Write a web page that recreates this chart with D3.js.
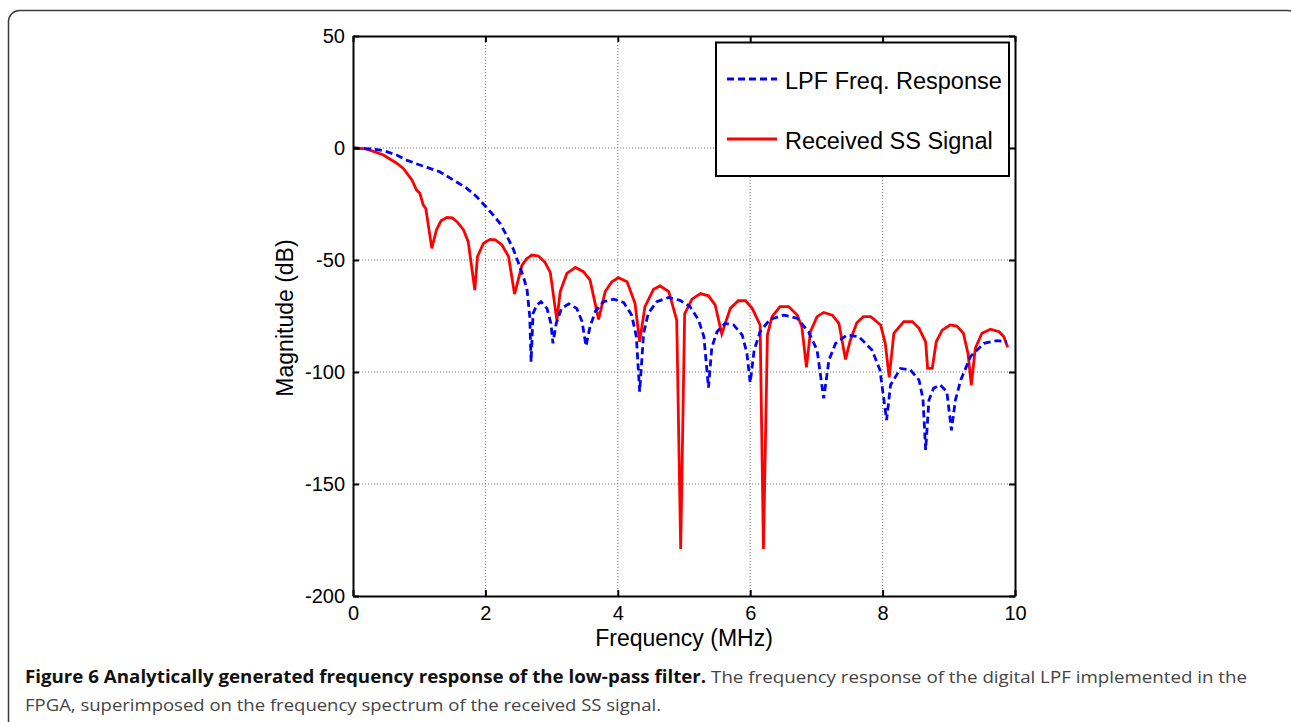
<!DOCTYPE html>
<html>
<head>
<meta charset="utf-8">
<script src="https://cdn.jsdelivr.net/npm/d3@7"></script>
<style>
  html, body { margin: 0; padding: 0; background: #fff; }
  svg { display: block; }
</style>
</head>
<body>
<svg id="chart" width="1291" height="722"></svg>
<script>
// Frequency axis values (MHz) and magnitudes (dB) for the digital LPF response
const lpfFreq = [0, 0.3, 0.46, 0.65, 0.81, 1.0, 1.15, 1.31, 1.5, 1.72, 1.86, 2.0, 2.12, 2.22, 2.32, 2.42, 2.52, 2.58, 2.63, 2.67, 2.69,
  2.72, 2.78, 2.84, 2.93, 2.99, 3.02, 3.07, 3.15, 3.26, 3.38, 3.46, 3.52, 3.58, 3.66, 3.78, 3.94, 4.09, 4.21, 4.28, 4.33,
  4.39, 4.46, 4.59, 4.77, 4.94, 5.09, 5.22, 5.30, 5.37, 5.42, 5.50, 5.62, 5.75, 5.88, 5.95, 6.0, 6.06, 6.15, 6.30, 6.51,
  6.71, 6.88, 7.01, 7.11, 7.19, 7.29, 7.46, 7.64, 7.84, 7.96, 8.06, 8.12, 8.27, 8.42, 8.55, 8.61, 8.65, 8.70, 8.77, 8.87,
  8.97, 9.04, 9.10, 9.18, 9.33, 9.53, 9.73, 9.88];
const lpfMag = [0, -0.5, -1.2, -3, -5.4, -7.5, -9, -10.6, -14, -18, -21.5, -26, -30, -33.6, -39, -45, -53, -58, -63.4, -75.3, -95.5,
  -73.8, -70, -68.6, -71.6, -78.3, -87.2, -78.3, -71.6, -69.6, -71.6, -77.5, -88.4, -79.8, -73, -68.6, -67.5, -69, -74.6, -84.2, -108.8,
  -82.7, -73.8, -68.6, -66.7, -68, -70.8, -76.8, -84.2, -107, -89, -82, -78.3, -79, -83.5, -91.7, -104.8, -90.2, -82, -76.5, -74.6,
  -76, -82, -90.2, -111.8, -94.6, -87.2, -83.5, -84.2, -90.2, -99.1, -121.5, -105.8, -98.4, -99.1, -103.6, -112, -134.8, -112.5, -107.3, -105.8,
  -108.8, -126, -112.5, -103.6, -93, -87.2, -86, -86.5];

// Spectrum of the received spread-spectrum signal
const ssFreq = [0, 0.2, 0.46, 0.66, 0.76, 0.89, 0.96, 1.01, 1.06, 1.10, 1.19, 1.26, 1.33, 1.42, 1.50, 1.57, 1.67, 1.74, 1.84,
  1.88, 1.97, 2.07, 2.15, 2.25, 2.35, 2.44, 2.47, 2.55, 2.62, 2.70, 2.80, 2.90, 2.98, 3.08, 3.13, 3.23, 3.36, 3.48, 3.58,
  3.71, 3.81, 3.91, 4.01, 4.14, 4.26, 4.33, 4.41, 4.54, 4.64, 4.77, 4.89, 4.95, 5.01, 5.12, 5.25, 5.37, 5.47, 5.57, 5.70,
  5.82, 5.93, 6.03, 6.15, 6.20, 6.26, 6.33, 6.45, 6.58, 6.71, 6.78, 6.85, 6.91, 7.01, 7.11, 7.24, 7.34, 7.44, 7.51, 7.61,
  7.71, 7.82, 7.97, 8.04, 8.10, 8.17, 8.32, 8.45, 8.55, 8.65, 8.68, 8.75, 8.81, 8.90, 9.02, 9.12, 9.22, 9.29, 9.34, 9.40,
  9.50, 9.63, 9.76, 9.83, 9.89];
const ssMag = [0, -0.4, -3.1, -6.8, -9.1, -14.3, -18.8, -20.2, -25.4, -27, -44.8, -36.6, -32.5, -31, -31.2, -32.9, -36.6, -41.8, -63.4,
  -48.5, -42.6, -40.8, -41, -43.3, -48.5, -65.2, -61.9, -52.5, -49.5, -47.8, -48.2, -51, -55.5, -77, -64.1, -56, -53.3, -55.2, -58.9,
  -76.5, -64.1, -59.7, -57.9, -59.7, -69.3, -86.5, -70.8, -63.1, -61.6, -64.1, -76.8, -179, -74, -67.5, -65, -66, -70, -83, -71.6,
  -68.2, -68.2, -71.6, -79, -179, -83.5, -75.3, -70.8, -70.8, -74.6, -79.8, -97.9, -82, -75.3, -73.4, -74.6, -78.3, -94.4, -86, -78,
  -75.3, -75.3, -79, -87.2, -102.4, -82.7, -77.5, -77.5, -80.5, -86.5, -98.4, -98.4, -86.5, -81.3, -79, -79.5, -82.7, -91.7, -105.8, -89.4,
  -82.7, -80.9, -82, -84.2, -89];

const xTicks = [0, 2, 4, 6, 8, 10];
const yTicks = [50, 0, -50, -100, -150, -200];
const seriesNames = ["LPF Freq. Response", "Received SS Signal"];

const svg = d3.select("#chart");
const plot = { left: 353, top: 36, right: 1015, bottom: 596 };

// Page frame with rounded corners
svg.append("rect")
  .attr("x", 8.5).attr("y", 10.5)
  .attr("width", 1290).attr("height", 722)
  .attr("rx", 11).attr("ry", 11)
  .attr("fill", "none").attr("stroke", "#3a3a3a").attr("stroke-width", 1.5);

const x = d3.scaleLinear().domain([0, 10]).range([plot.left, plot.right]);
const y = d3.scaleLinear().domain([-200, 50]).range([plot.bottom, plot.top]);

const axisFont = "'Liberation Sans', Arial, Helvetica, sans-serif";
const plainNum = d => String(d);   // ASCII hyphen for negatives

// Grid
const grid = svg.append("g");
grid.selectAll("line.gx").data(xTicks.slice(1, -1)).join("line")
  .attr("x1", d => x(d)).attr("x2", d => x(d))
  .attr("y1", plot.top).attr("y2", plot.bottom)
  .attr("stroke", "#777").attr("stroke-width", 1).attr("stroke-dasharray", "1,2");
grid.selectAll("line.gy").data(yTicks.slice(1, -1)).join("line")
  .attr("x1", plot.left).attr("x2", plot.right)
  .attr("y1", d => y(d)).attr("y2", d => y(d))
  .attr("stroke", "#777").attr("stroke-width", 1).attr("stroke-dasharray", "1,2");

// Curves
const line = d3.line().x(d => x(d[0])).y(d => y(d[1])).curve(d3.curveLinear);
svg.append("clipPath").attr("id", "plotClip").append("rect")
  .attr("x", plot.left).attr("y", plot.top)
  .attr("width", plot.right - plot.left).attr("height", plot.bottom - plot.top);

const curves = svg.append("g").attr("clip-path", "url(#plotClip)");
curves.append("path")
  .datum(d3.zip(ssFreq, ssMag))
  .attr("d", line)
  .attr("fill", "none").attr("stroke", "#ff0000").attr("stroke-width", 2.8)
  .attr("stroke-linejoin", "miter").attr("stroke-miterlimit", 4);
curves.append("path")
  .datum(d3.zip(lpfFreq, lpfMag))
  .attr("d", line)
  .attr("fill", "none").attr("stroke", "#0000ff").attr("stroke-width", 2.8)
  .attr("stroke-dasharray", "7,4");

// Axes (ticks drawn inward, box on all sides)
const tickLen = 6;
const axB = svg.append("g").attr("transform", `translate(0,${plot.bottom})`)
  .call(d3.axisBottom(x).tickValues(xTicks).tickFormat(plainNum).tickSizeInner(-tickLen).tickSizeOuter(0).tickPadding(10));
const axT = svg.append("g").attr("transform", `translate(0,${plot.top})`)
  .call(d3.axisTop(x).tickValues(xTicks).tickSizeInner(-tickLen).tickSizeOuter(0).tickFormat(""));
const axL = svg.append("g").attr("transform", `translate(${plot.left},0)`)
  .call(d3.axisLeft(y).tickValues(yTicks).tickFormat(plainNum).tickSizeInner(-tickLen).tickSizeOuter(0).tickPadding(8));
const axR = svg.append("g").attr("transform", `translate(${plot.right},0)`)
  .call(d3.axisRight(y).tickValues(yTicks).tickSizeInner(-tickLen).tickSizeOuter(0).tickFormat(""));

[axB, axT, axL, axR].forEach(a => {
  a.select(".domain").attr("stroke", "#000").attr("stroke-width", 2);
  a.selectAll(".tick line").attr("stroke", "#000").attr("stroke-width", 2);
  a.selectAll(".tick text").attr("fill", "#000")
    .style("font-family", axisFont).style("font-size", "20px");
});
axB.selectAll(".tick text").attr("dy", "0.71em");

// Axis titles
svg.append("text")
  .attr("x", (plot.left + plot.right) / 2).attr("y", 646)
  .attr("text-anchor", "middle")
  .style("font-family", axisFont).style("font-size", "23px").attr("fill", "#000")
  .text("Frequency (MHz)");
svg.append("text")
  .attr("transform", `translate(293,${(plot.top + plot.bottom) / 2 + 2}) rotate(-90)`)
  .attr("text-anchor", "middle")
  .style("font-family", axisFont).style("font-size", "23px").attr("fill", "#000")
  .text("Magnitude (dB)");

// Legend
const lg = svg.append("g");
lg.append("rect")
  .attr("x", 716).attr("y", 42.5).attr("width", 293).attr("height", 133.5)
  .attr("fill", "#fff").attr("stroke", "#000").attr("stroke-width", 2);
const legendRows = [
  { name: seriesNames[0], color: "#0000ff", dash: "7,4", y: 79 },
  { name: seriesNames[1], color: "#ff0000", dash: null, y: 139 }
];
legendRows.forEach(r => {
  lg.append("line")
    .attr("x1", 727).attr("x2", 777).attr("y1", r.y).attr("y2", r.y)
    .attr("stroke", r.color).attr("stroke-width", 2.8)
    .attr("stroke-dasharray", r.dash);
  lg.append("text")
    .attr("x", 785).attr("y", r.y + 2).attr("dominant-baseline", "central")
    .style("font-family", axisFont).style("font-size", "23.5px").attr("fill", "#000")
    .text(r.name);
});

// Figure caption
const capFont = "'Open Sans', 'Noto Sans', sans-serif";
const cap1 = svg.append("text")
  .attr("x", 25).attr("y", 683)
  .style("font-family", capFont).style("font-size", "17px");
cap1.append("tspan").attr("font-weight", "bold").attr("fill", "#111")
  .text("Figure 6 Analytically generated frequency response of the low-pass filter.");
cap1.append("tspan").attr("fill", "#444")
  .text(" The frequency response of the digital LPF implemented in the");
const cap2 = svg.append("text")
  .attr("x", 25).attr("y", 711)
  .style("font-family", capFont).style("font-size", "17px").attr("fill", "#444")
  .text("FPGA, superimposed on the frequency spectrum of the received SS signal.");

// Fit caption lines to their set widths
const fitLine = (sel, width) => {
  sel.attr("textLength", width).attr("lengthAdjust", "spacingAndGlyphs");
};
fitLine(cap1, 1222);
fitLine(cap2, 636);
</script>
</body>
</html>
